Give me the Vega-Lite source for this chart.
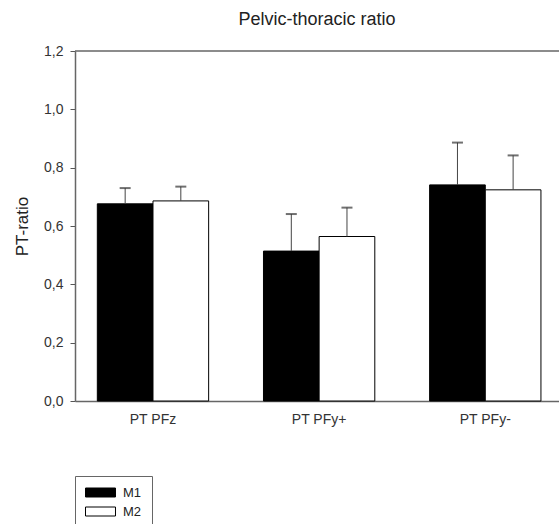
{
  "$schema": "https://vega.github.io/schema/vega-lite/v6.json",
  "autosize": {"type": "none"},
  "padding": {"left": 75, "top": 51, "right": 0, "bottom": 123},
  "width": 484,
  "height": 350,
  "background": "white",
  "config": {"view": {"stroke": null}, "font": "Liberation Sans"},
  "title": {"text": "Pelvic-thoracic ratio", "fontSize": 18, "font": "Liberation Sans", "fontWeight": "normal", "color": "#222", "frame": "group", "anchor": "middle", "baseline": "alphabetic", "offset": 1},
  "datasets": {
    "bars": [
      {"group": "PT PFz", "series": "M1", "value": 0.676, "upper": 0.730},
      {"group": "PT PFz", "series": "M2", "value": 0.686, "upper": 0.735},
      {"group": "PT PFy+", "series": "M1", "value": 0.514, "upper": 0.641},
      {"group": "PT PFy+", "series": "M2", "value": 0.564, "upper": 0.663},
      {"group": "PT PFy-", "series": "M1", "value": 0.741, "upper": 0.886},
      {"group": "PT PFy-", "series": "M2", "value": 0.724, "upper": 0.842}
    ],
    "frame": [{"top": 1.2}]
  },
  "layer": [
    {
      "data": {"name": "frame"},
      "mark": {"type": "rule", "color": "#666", "strokeWidth": 1.5},
      "encoding": {"y": {"field": "top", "type": "quantitative"}}
    },
    {
      "data": {"name": "bars"},
      "mark": {"type": "bar", "stroke": "black", "strokeWidth": 1},
      "encoding": {
        "x": {"field": "group", "type": "nominal", "sort": ["PT PFz", "PT PFy+", "PT PFy-"],
          "scale": {"paddingInner": 0.33, "paddingOuter": 0.1215, "align": 0.553},
          "axis": {"title": null, "labelAngle": 0, "ticks": false, "domainColor": "#666", "domainWidth": 1.5, "labelFontSize": 14, "labelPadding": 11, "labelColor": "#333", "labelFont": "Liberation Sans"}},
        "xOffset": {"field": "series", "type": "nominal", "scale": {"paddingInner": 0, "paddingOuter": 0}},
        "y": {"field": "value", "type": "quantitative",
          "scale": {"domain": [0, 1.2], "nice": false},
          "axis": {"values": [0, 0.2, 0.4, 0.6, 0.8, 1.0, 1.2], "labelExpr": "replace(format(datum.value, '.1f'), '.', ',')", "title": "PT-ratio", "grid": false, "tickSize": 5, "tickColor": "#555", "domainColor": "#666", "domainWidth": 1.5, "labelFontSize": 14, "labelFont": "Liberation Sans", "labelColor": "#333", "labelPadding": 7, "titleFontSize": 17, "titleFont": "Liberation Sans", "titleFontWeight": "normal", "titleX": -48, "titleY": 175, "titleBaseline": "alphabetic", "titleColor": "#222"}},
        "fill": {"field": "series", "type": "nominal",
          "scale": {"domain": ["M1", "M2"], "range": ["black", "white"]},
          "legend": {"orient": "none", "legendX": 0, "legendY": 425, "title": null, "strokeColor": "#666", "padding": 10, "symbolType": "M-3.333,-1H3.333V1H-3.333Z", "symbolSize": 81, "symbolOffset": 9, "symbolStrokeColor": "black", "symbolStrokeWidth": 1, "symbolOpacity": 1, "labelFontSize": 13, "labelOffset": 16, "rowPadding": 5, "labelFont": "Liberation Sans", "labelColor": "#222"}}
      }
    },
    {
      "data": {"name": "bars"},
      "mark": {"type": "rule", "color": "#444", "strokeWidth": 1},
      "encoding": {
        "x": {"field": "group", "type": "nominal", "sort": ["PT PFz", "PT PFy+", "PT PFy-"]},
        "xOffset": {"field": "series", "type": "nominal"},
        "y": {"field": "value", "type": "quantitative"},
        "y2": {"field": "upper"}
      }
    },
    {
      "data": {"name": "bars"},
      "mark": {"type": "tick", "color": "#333", "thickness": 2, "size": 11, "orient": "horizontal"},
      "encoding": {
        "x": {"field": "group", "type": "nominal", "sort": ["PT PFz", "PT PFy+", "PT PFy-"]},
        "xOffset": {"field": "series", "type": "nominal"},
        "y": {"field": "upper", "type": "quantitative"}
      }
    }
  ]
}
